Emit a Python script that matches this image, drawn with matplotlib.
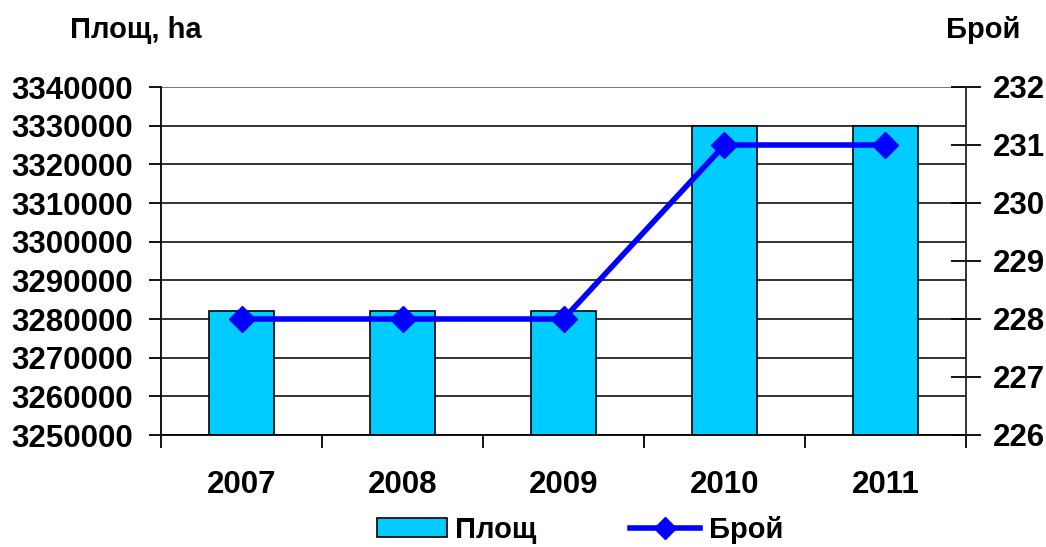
import numpy as np
import matplotlib
matplotlib.use("Agg")
import matplotlib.pyplot as plt
from matplotlib.lines import Line2D
from matplotlib.patches import Patch
from matplotlib.ticker import FormatStrFormatter

plt.rcParams['font.family'] = ['Liberation Sans', 'DejaVu Sans']
plt.rcParams['font.weight'] = 'bold'

years = ['2007', '2008', '2009', '2010', '2011']
area = [3282000, 3282000, 3282000, 3330000, 3330000]   # Площ, ha
count = [228, 228, 228, 231, 231]                      # Брой

W, H = 1046, 547
fig = plt.figure(figsize=(W / 100, H / 100), dpi=100)
x0, x1, y0, y1 = 161, 966, 87, 435
ax = fig.add_axes([x0 / W, 1 - y1 / H, (x1 - x0) / W, (y1 - y0) / H])

x = np.arange(len(years))
ax.bar(x, [a - 3250000 for a in area], bottom=3250000, width=0.4,
       color='#00CCFF', edgecolor='black', linewidth=1.2, zorder=2)
ax.set_xlim(-0.5, len(years) - 0.5)
ax.set_ylim(3250000, 3340000)
ax.set_yticks(np.arange(3250000, 3340001, 10000))
ax.yaxis.set_major_formatter(FormatStrFormatter('%d'))
ax.yaxis.grid(True, color='#111111', linewidth=1.2, zorder=0)
ax.set_axisbelow(True)
ax.set_xticks(np.arange(-0.5, len(years), 1.0))
ax.set_xticklabels([])
ax.set_xticks(x, minor=True)
ax.set_xticklabels(years, minor=True, fontsize=22.5, fontweight='bold')
ax.tick_params(axis='x', which='minor', length=0, pad=25)
ax.tick_params(axis='x', which='major', length=9, width=1.3, direction='out')
ax.tick_params(axis='y', length=9, width=1.3, direction='out', pad=11,
               labelsize=22.5)
for s in ['top', 'right']:
    ax.spines[s].set_visible(False)
ax.spines['left'].set_linewidth(1.3)
ax.spines['bottom'].set_linewidth(1.3)

ax2 = ax.twinx()
ax2.plot(x, count, color='#0000FF', linewidth=4, marker='D', markersize=13,
         zorder=3)
ax2.set_ylim(226, 232)
ax2.set_yticks(np.arange(226, 233, 1))
ax2.tick_params(axis='y', length=22, width=1.3, direction='inout', pad=8,
                labelsize=22.5)
for s in ['top', 'left', 'bottom']:
    ax2.spines[s].set_visible(False)
ax2.spines['right'].set_linewidth(1.3)
ax2.spines['right'].set_color('#222222')
# top border line
ax.axhline(3340000, color='#888888', linewidth=1.2, zorder=1)

fig.text(70 / W, 1 - 30 / H, 'Площ, ha', fontsize=21, fontweight='bold',
         va='center', ha='left')
fig.text(1020 / W, 1 - 30 / H, 'Брой', fontsize=21, fontweight='bold',
         va='center', ha='right')

handles = [Patch(facecolor='#00CCFF', edgecolor='black', linewidth=1.2),
           Line2D([], [], color='#0000FF', linewidth=4, marker='D',
                  markersize=11)]
fig.legend(handles, ['Площ', 'Брой'], loc='center',
           bbox_to_anchor=(580 / W, 1 - 530 / H), ncol=2, frameon=False,
           prop={'size': 21, 'weight': 'bold'}, handlelength=2.4,
           handletextpad=0.3, columnspacing=3.2, handleheight=0.6)

fig.savefig('out.png', dpi=100)
